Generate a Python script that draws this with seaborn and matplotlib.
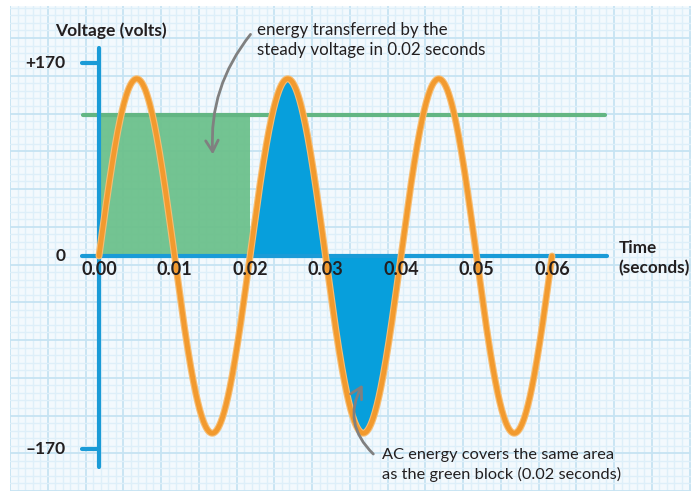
import numpy as np
import pandas as pd
import matplotlib.pyplot as plt
import seaborn as sns

# values
peak_volts = 156        # height reached by the orange AC wave
period_s = 0.02         # one cycle every 0.02 s
wave_end_s = 0.06
steady_volts = 124      # top of the green block / steady line
block_span = [0.00, 0.02]
ac_span = [0.02, 0.04]

x_ticks = [0.00, 0.01, 0.02, 0.03, 0.04, 0.05, 0.06]
x_tick_labels = ["0.00", "0.01", "0.02", "0.03", "0.04", "0.05", "0.06"]
y_ticks = [170, 0, -170]
y_tick_labels = ["+170", "0", "\u2013170"]

t = np.linspace(0, wave_end_s, 721)
wave = pd.DataFrame({"time": t, "volts": peak_volts * np.sin(2 * np.pi * t / period_s)})

sns.set_style("white")
plt.rcParams['font.family'] = ['Lato', 'DejaVu Sans']

BLUE = '#1a9bd7'
FILL_BLUE = '#079fdc'
GREEN = '#6cc18c'
ORANGE = '#f29a2e'
GREY = '#808080'
INK = '#231f20'

fig = plt.figure(figsize=(6.99, 4.96), dpi=100)

# graph paper background (pixel units)
bg = fig.add_axes([10 / 699, 5 / 496, 681 / 699, 485 / 496])
bg.set_facecolor('#f3f9fd')
bg.set_xlim(0, 681)
bg.set_ylim(0, 485)
bg.set_xticks(np.arange(0, 682, 37.75))
bg.set_xticks(np.arange(0, 682, 7.55), minor=True)
bg.set_yticks(np.arange(0, 486, 37.75))
bg.set_yticks(np.arange(0, 486, 7.55), minor=True)
bg.grid(which='major', color='#c6e3f3', lw=1.3)
bg.grid(which='minor', color='#deeff9', lw=1)
bg.tick_params(which='both', length=0, labelbottom=False, labelleft=False)
for s in bg.spines.values():
    s.set_visible(False)

# main drawing axes, mapped so 0.01 s = 75.5 px and 1 V = 1.136 px
ax = fig.add_axes([0, 0, 1, 1])
ax.set_facecolor('none')
ax.set_xlim(-99 / 7550, 600 / 7550)
ax.set_ylim(-240 / 1.136, 256 / 1.136)

# green block and steady line
ax.fill_between(block_span, 0, steady_volts, color=GREEN, alpha=0.95, lw=0, zorder=2)
ax.plot([-0.0021, 0.067], [steady_volts, steady_volts], color='#63b683', lw=3, zorder=2)

# blue AC area
m = (wave.time >= ac_span[0]) & (wave.time <= ac_span[1])
ax.fill_between(wave.time[m], 0, wave.volts[m], color=FILL_BLUE, lw=0, zorder=3)

# axes lines
ax.plot([-0.0023, 0.0673], [0, 0], color=BLUE, lw=3, zorder=4)
ax.plot([0, 0], [183, -186], color=BLUE, lw=3, zorder=4)
for yt in [170, -170]:
    ax.plot([-0.0023, 0], [yt, yt], color=BLUE, lw=3, zorder=4)

# the AC wave
sns.lineplot(data=wave, x='time', y='volts', ax=ax, color='#f7bd72', lw=5, zorder=5)
sns.lineplot(data=wave, x='time', y='volts', ax=ax, color=ORANGE, lw=3.4, zorder=6)
ax.axis('off')

# tick labels
for xv, lab in zip(x_ticks, x_tick_labels):
    ax.text(xv, -4, lab, ha='center', va='top', fontsize=13, fontweight='bold',
            color=INK, zorder=10)
for yv, lab in zip(y_ticks, y_tick_labels):
    ax.text(-0.0044, yv, lab, ha='right', va='center', fontsize=12.5, fontweight='bold',
            color=INK, zorder=10)

ax.text(-0.0058, 198, "Voltage (volts)", ha='left', va='center', fontsize=12.5,
        fontweight='bold', color=INK, zorder=10)
ax.text(0.0688, -2, "Time\n(seconds)", ha='left', va='center', fontsize=12.3,
        fontweight='bold', color=INK, linespacing=1.3, zorder=10)

# annotations
ax.text(0.0209, 190, "energy transferred by the\nsteady voltage in 0.02 seconds",
        ha='left', va='center', fontsize=12.2, color=INK, linespacing=1.3, zorder=10)
ax.annotate('', xy=(0.0151, 87), xytext=(0.0203, 197),
            arrowprops=dict(arrowstyle='->,head_length=0.8,head_width=0.45', color=GREY,
                            lw=2, connectionstyle='arc3,rad=0.2'), zorder=9)

ax.text(0.0375, -184, "AC energy covers the same area\nas the green block (0.02 seconds)",
        ha='left', va='center', fontsize=11.8, color=INK, linespacing=1.35, zorder=10)
ax.annotate('', xy=(0.0351, -111), xytext=(0.0366, -176),
            arrowprops=dict(arrowstyle='->,head_length=0.8,head_width=0.45', color=GREY,
                            lw=2, connectionstyle='arc3,rad=-0.4'), zorder=9)

fig.savefig('out.png', dpi=100)
